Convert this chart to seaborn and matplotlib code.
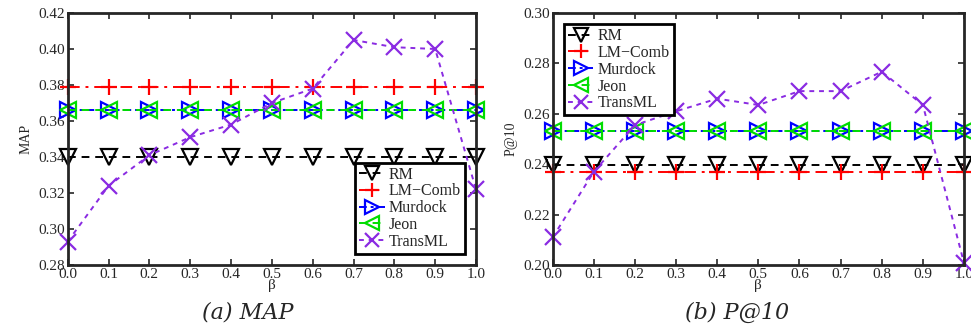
import numpy as np
import pandas as pd
import matplotlib
matplotlib.use("Agg")
import matplotlib.pyplot as plt
import seaborn as sns

# -------------------------------
# DATA
# -------------------------------
beta = [0.0, 0.1, 0.2, 0.3, 0.4, 0.5, 0.6, 0.7, 0.8, 0.9, 1.0]
methods = ["RM", "LM\u2212Comb", "Murdock", "Jeon", "TransML"]

map_rm = [0.340] * 11
map_lmcomb = [0.379] * 11
map_murdock = [0.366] * 11
map_jeon = [0.366] * 11
map_transml = [0.293, 0.324, 0.341, 0.351, 0.358, 0.370, 0.378, 0.405, 0.401, 0.400, 0.322]

p10_rm = [0.2395] * 11
p10_lmcomb = [0.237] * 11
p10_murdock = [0.253] * 11
p10_jeon = [0.253] * 11
p10_transml = [0.211, 0.237, 0.2555, 0.261, 0.266, 0.2635, 0.269, 0.269, 0.2767, 0.2635, 0.2008]

# -------------------------------
# STYLE
# -------------------------------
sns.set_style("ticks")
plt.rcParams['font.family'] = ['Liberation Serif', 'DejaVu Serif']

colors = ["black", "red", "blue", "#00dd00", "#8a2be2"]
markers = ["v", "+", ">", "<", "x"]
styles = [(0, (4, 3)), (0, (6, 3, 1.5, 3)), (0, (4, 2, 1.5, 2)), (0, (4, 3)), (0, (2.5, 2.5))]
fills = ["none", None, "none", "none", None]


def draw(ax, series, yticks, ylabel, legend_loc):
    for name, vals, c, m, ls, fc in zip(methods, series, colors, markers, styles, fills):
        df = pd.DataFrame({"beta": beta, "val": vals})
        kw = dict(markersize=11, markeredgewidth=1.6)
        if fc is not None:
            kw["markerfacecolor"] = fc
        sns.lineplot(data=df, x="beta", y="val", ax=ax, color=c, marker=m,
                     linestyle=ls, linewidth=1.4, label=name, clip_on=False,
                     markeredgecolor=c, **kw)
    ax.set_xlim(0, 1)
    ax.set_ylim(yticks[0], yticks[-1])
    ax.set_xticks(beta)
    ax.set_xticklabels([f"{b:.1f}" for b in beta], fontsize=11)
    ax.set_yticks(yticks)
    ax.set_yticklabels([f"{t:.2f}" for t in yticks], fontsize=11)
    ax.tick_params(direction="in", top=True, right=True, length=4, width=1.2, pad=2)
    for s in ax.spines.values():
        s.set_linewidth(2)
        s.set_visible(True)
    ax.set_xlabel("\u03b2", fontsize=11, labelpad=-1)
    ax.set_ylabel(ylabel, fontsize=10, labelpad=4)
    leg = ax.legend(loc=legend_loc, fontsize=11.5, frameon=True, fancybox=False,
                    handlelength=1.6, handletextpad=0.25, borderpad=0.25,
                    labelspacing=0.05, borderaxespad=0.7, markerscale=0.9)
    leg.get_frame().set_edgecolor("black")
    leg.get_frame().set_linewidth(2)
    leg.get_frame().set_alpha(1)


fig = plt.figure(figsize=(9.71, 3.29), dpi=100)
W, H = 971, 329
ax1 = fig.add_axes([67.7 / W, 64 / H, (476 - 67.7) / W, 252 / H])
ax2 = fig.add_axes([552.7 / W, 64 / H, (964 - 552.7) / W, 252 / H])

draw(ax1, [map_rm, map_lmcomb, map_murdock, map_jeon, map_transml],
     [0.28, 0.30, 0.32, 0.34, 0.36, 0.38, 0.40, 0.42], "MAP", "lower right")
draw(ax2, [p10_rm, p10_lmcomb, p10_murdock, p10_jeon, p10_transml],
     [0.20, 0.22, 0.24, 0.26, 0.28, 0.30], "P@10", "upper left")

fig.text(248 / W, 1 - 313 / H, "(a) MAP", fontsize=16, style="italic",
         ha="center", va="center", family="DejaVu Serif")
fig.text(737 / W, 1 - 313 / H, "(b) P@10", fontsize=16, style="italic",
         ha="center", va="center", family="DejaVu Serif")

plt.savefig("out.png", dpi=100)
